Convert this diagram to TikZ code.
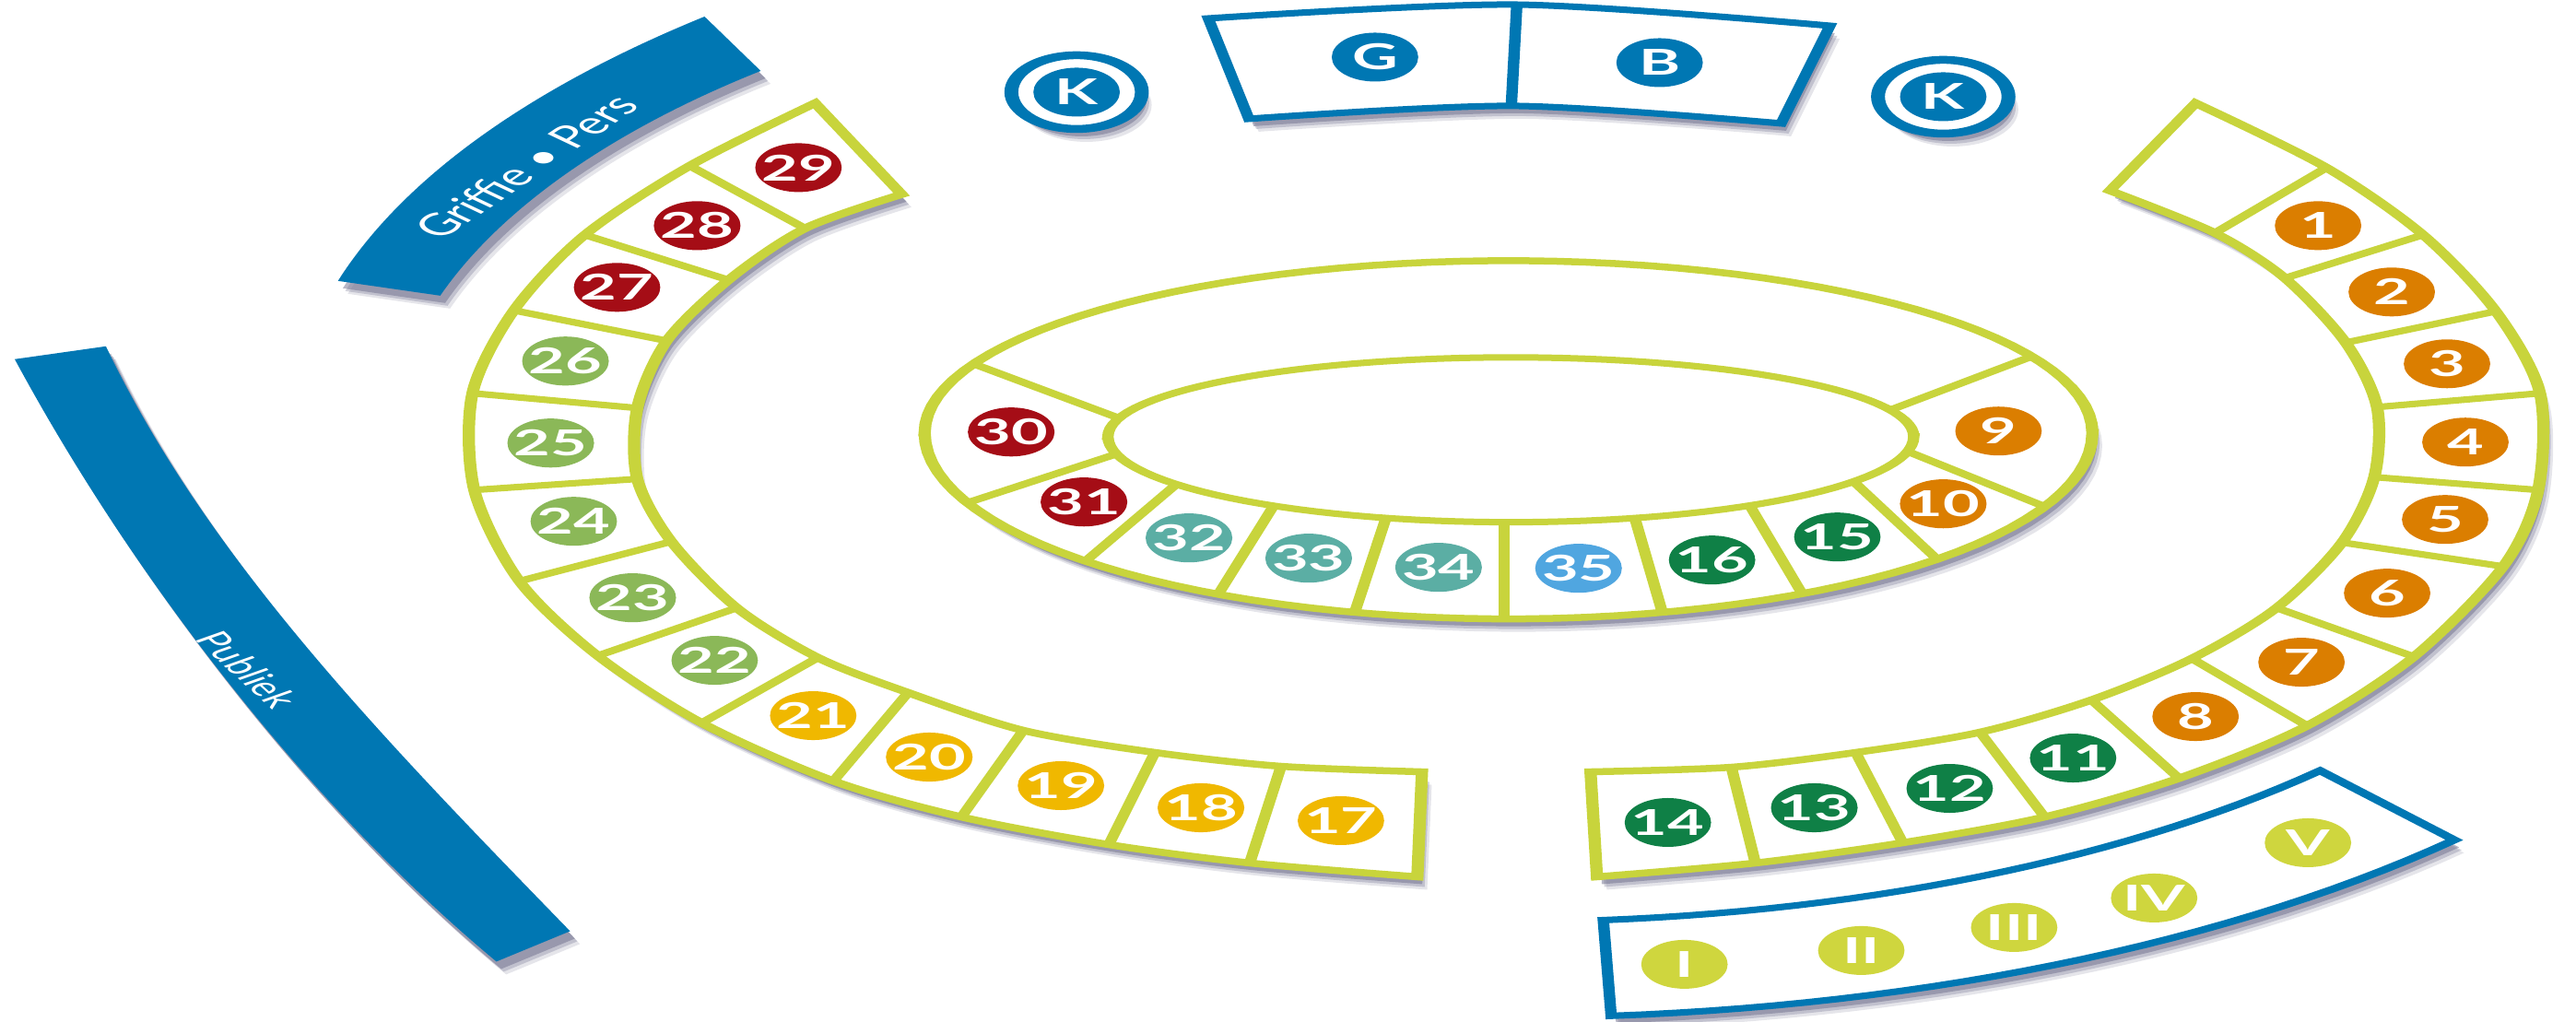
\documentclass[tikz,border=0pt]{standalone}
\usepackage{fontspec}
\setmainfont{Lato}
\usepackage{xcolor}
\usepackage{tikz}
\usetikzlibrary{shadows}

\definecolor{bandgreen}{HTML}{C8D43C}
\definecolor{bandblue}{HTML}{0077B3}
\definecolor{shadowgray}{HTML}{6E6E8C}
\definecolor{seatorange}{HTML}{DB7E00}
\definecolor{seatred}{HTML}{A50D16}
\definecolor{seatlime}{HTML}{8BB858}
\definecolor{seatdark}{HTML}{0F8046}
\definecolor{seatyellow}{HTML}{F0B800}
\definecolor{seatteal}{HTML}{5BAEA4}
\definecolor{seatsky}{HTML}{50A6E0}
\definecolor{seatroman}{HTML}{CFD63E}

\begin{document}
\begin{tikzpicture}[
        softshadow/.style={
            drop shadow={shadow xshift=0.06cm, shadow yshift=-0.14cm, opacity=0.18, fill=shadowgray},
            drop shadow={shadow xshift=0.045cm, shadow yshift=-0.11cm, opacity=0.3, fill=shadowgray},
            drop shadow={shadow xshift=0.03cm, shadow yshift=-0.08cm, opacity=0.5, fill=shadowgray}},
        seat/.style={circle, minimum size=0.53cm, inner sep=0pt, text=white, font=\bfseries\fontsize{11}{11}\selectfont},
        orange/.style={seat, fill=seatorange},
        red/.style={seat, fill=seatred},
        lime/.style={seat, fill=seatlime},
        dark/.style={seat, fill=seatdark},
        yellow/.style={seat, fill=seatyellow},
        teal/.style={seat, fill=seatteal},
        sky/.style={seat, fill=seatsky},
        roman/.style={seat, fill=seatroman},
        chair/.style={seat, fill=bandblue},
        ring/.style={circle, minimum size=0.8cm, inner sep=0pt, draw=bandblue, line width=0.085cm, fill=white, softshadow},
        band/.style={draw=bandgreen, line width=0.075cm, fill=white, softshadow},
        divider/.style={draw=bandgreen, line width=0.07cm},
        bench/.style={draw=bandblue, line width=0.07cm, fill=white, softshadow},
        strip/.style={fill=bandblue, softshadow},
        striptext/.style={text=white, inner sep=0pt}
    ]
    \useasboundingbox (0,0) rectangle (27.95,-11.09);

    \begin{scope}[transform canvas={xscale=1.77}, x=0.00565cm, y=-0.01cm]
        % Griffie strip
        \fill[strip] (367,305) .. controls (438,193) and (576,95) .. (765,18)
            -- (826,77) .. controls (663,142) and (542,228) .. (478,321) -- cycle;
        \node[striptext, rotate=50, font=\fontsize{9.5}{9.5}\selectfont] (griffie) at (571,181) {Griffie • Pers};

        % Publiek strip
        \fill[strip] (16,390) .. controls (140,620) and (330,870) .. (539,1044)
            -- (619,1011) .. controls (419,805) and (225,607) .. (115,376) -- cycle;
        \node[striptext, rotate=-58, font=\fontsize{8}{8}\selectfont] (publiek) at (269,727) {Publiek};

        % Kamer seats
        \node[ring] (kleft) at (1169,100) {};
        \node[ring] (kright) at (2110,105) {};
        \node[chair] (k1) at (kleft) {K};
        \node[chair] (k2) at (kright) {K};

        % Griffier and bode
        \draw[bench] plot[smooth] coordinates {(1312,20) (1647,5) (1987,28)}
            -- plot[smooth] coordinates {(1934,134) (1644,115) (1356,129)} -- cycle;
        \draw[draw=bandblue, line width=0.07cm] (1647,5) -- (1641,115);
        \node[chair] (g) at (1493,62) {G};
        \node[chair] (b) at (1802,68) {B};

        % Left block
        \draw[band] plot[smooth] coordinates {(885,112) (749,180) (635,255) (558,337) (513,427) (515,532) (564,631) (649,712) (762,785) (905,848) (1044,887) (1204,917) (1357,937) (1539,952)}
            -- plot[smooth] coordinates {(1544,838) (1391,832) (1254,817) (1111,793) (986,752) (888,714) (800,660) (729,588) (692,520) (692,443) (724,370) (791,304) (874,248) (979,211)} -- cycle;
        \draw[divider] (749,180) -- (874,248);
        \draw[divider] (635,255) -- (791,304);
        \draw[divider] (558,337) -- (724,370);
        \draw[divider] (513,427) -- (692,443);
        \draw[divider] (515,532) -- (692,520);
        \draw[divider] (564,631) -- (729,588);
        \draw[divider] (649,712) -- (800,660);
        \draw[divider] (762,785) -- (888,714);
        \draw[divider] (905,848) -- (986,752);
        \draw[divider] (1044,887) -- (1111,793);
        \draw[divider] (1204,917) -- (1254,817);
        \draw[divider] (1357,937) -- (1391,832);

        % Right block
        \draw[band] plot[smooth] coordinates {(2384,112) (2526,182) (2631,255) (2710,338) (2758,427) (2756,532) (2718,615) (2621,713) (2505,788) (2366,845) (2220,887) (2066,915) (1906,937) (1734,952)}
            -- plot[smooth] coordinates {(1727,838) (1880,833) (2015,817) (2150,795) (2271,760) (2380,715) (2472,660) (2543,589) (2578,518) (2581,442) (2547,372) (2481,302) (2405,253) (2291,207)} -- cycle;
        \draw[divider] (2526,182) -- (2405,253);
        \draw[divider] (2631,255) -- (2481,302);
        \draw[divider] (2710,338) -- (2547,372);
        \draw[divider] (2758,427) -- (2581,442);
        \draw[divider] (2756,532) -- (2578,518);
        \draw[divider] (2718,615) -- (2543,589);
        \draw[divider] (2621,713) -- (2472,660);
        \draw[divider] (2505,788) -- (2380,715);
        \draw[divider] (2366,845) -- (2271,760);
        \draw[divider] (2220,887) -- (2150,795);
        \draw[divider] (2066,915) -- (2015,817);
        \draw[divider] (1906,937) -- (1880,833);

        % Oval table
        \draw[band] plot[domain=0:180, samples=60] ({1638+634*cos(\x)},{470+202*sin(\x)})
            -- plot[domain=180:360, samples=60] ({1638+634*cos(\x)},{470+187*sin(\x)}) -- cycle;
        \draw[divider, fill=white] plot[domain=0:180, samples=60] ({1640.5+437.5*cos(\x)},{474+93*sin(\x)})
            -- plot[domain=180:360, samples=60] ({1640.5+437.5*cos(\x)},{474+86*sin(\x)}) -- cycle;
        \draw[divider] (1057,395) -- (1215,454);
        \draw[divider] (1050,546) -- (1212,493);
        \draw[divider] (1179,609) -- (1277,526);
        \draw[divider] (1323,645) -- (1383,549);
        \draw[divider] (1471,665) -- (1505,562);
        \draw[divider] (1633,672) -- (1633,567);
        \draw[divider] (1805,665) -- (1775,562);
        \draw[divider] (1957,645) -- (1900,549);
        \draw[divider] (2103,607) -- (2013,523);
        \draw[divider] (2220,550) -- (2071,490);
        \draw[divider] (2206,387) -- (2053,445);

        % Bench of the government
        \draw[bench] plot[domain=85:43.3, samples=30] ({1635+1215*cos(\x)},{478+523*sin(\x)})
            -- plot[domain=43.8:85.4, samples=30] ({1635+1427*cos(\x)},{478+627*sin(\x)}) -- cycle;
        \node[roman] (r1) at (1829,1047) {I};
        \node[roman] (r2) at (2021,1032) {II};
        \node[roman] (r3) at (2187,1007) {III};
        \node[roman] (r4) at (2339,975) {IV};
        \node[roman] (r5) at (2506,915) {V};

        % Seats right
        \node[orange] (s1) at (2517,245) {1};
        \node[orange] (s2) at (2597,317) {2};
        \node[orange] (s3) at (2657,395) {3};
        \node[orange] (s4) at (2677,480) {4};
        \node[orange] (s5) at (2655,564) {5};
        \node[orange] (s6) at (2592,644) {6};
        \node[orange] (s7) at (2499,719) {7};
        \node[orange] (s8) at (2384,778) {8};
        \node[dark] (s11) at (2251,823) {11};
        \node[dark] (s12) at (2117,856) {12};
        \node[dark] (s13) at (1970,877) {13};
        \node[dark] (s14) at (1811,893) {14};

        % Seats oval
        \node[orange] (s9) at (2170,468) {9};
        \node[orange] (s10) at (2110,547) {10};
        \node[dark] (s15) at (1995,583) {15};
        \node[dark] (s16) at (1859,608) {16};
        \node[sky] (s35) at (1714,617) {35};
        \node[teal] (s34) at (1562,616) {34};
        \node[teal] (s33) at (1421,606) {33};
        \node[teal] (s32) at (1291,584) {32};
        \node[red] (s31) at (1177,545) {31};
        \node[red] (s30) at (1098,469) {30};

        % Seats left
        \node[yellow] (s17) at (1456,891) {17};
        \node[yellow] (s18) at (1304,877) {18};
        \node[yellow] (s19) at (1152,853) {19};
        \node[yellow] (s20) at (1009,822) {20};
        \node[yellow] (s21) at (883,777) {21};
        \node[lime] (s22) at (776,717) {22};
        \node[lime] (s23) at (687,649) {23};
        \node[lime] (s24) at (623,566) {24};
        \node[lime] (s25) at (598,481) {25};
        \node[lime] (s26) at (614,392) {26};
        \node[red] (s27) at (670,312) {27};
        \node[red] (s28) at (757,245) {28};
        \node[red] (s29) at (867,182) {29};
    \end{scope}
\end{tikzpicture}
\end{document}
